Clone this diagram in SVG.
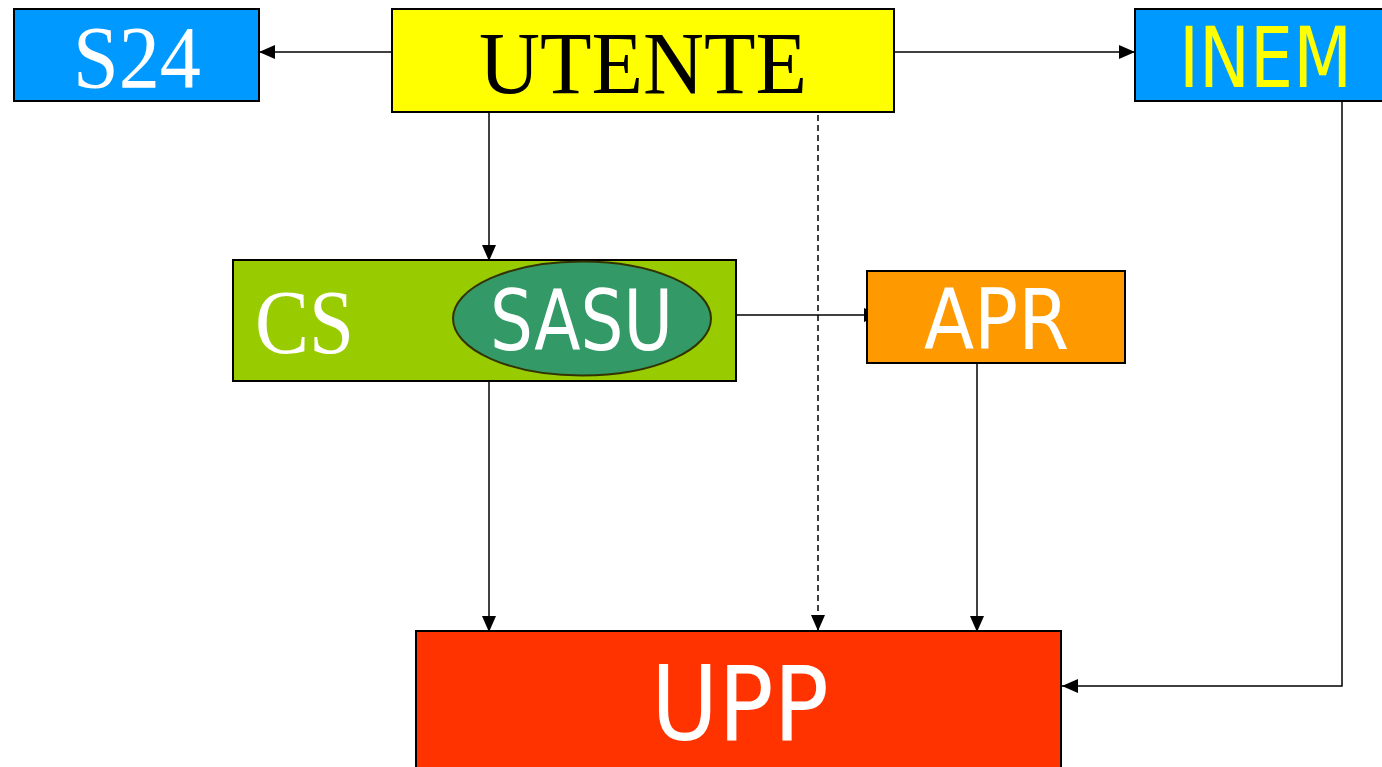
<svg xmlns="http://www.w3.org/2000/svg" width="1382" height="767" viewBox="0 0 1382 767">
<style>
.box{stroke:#000;stroke-width:2}
.ln{stroke:#000;stroke-width:1.5;fill:none}
.serif{font-family:'Liberation Serif','Times New Roman',serif}
.sans{font-family:'DejaVu Sans','Liberation Sans',sans-serif}
</style>
<defs>
<marker id="ah" viewBox="0 0 16 14" refX="16" refY="7" markerWidth="16" markerHeight="14" markerUnits="userSpaceOnUse" orient="auto">
<path d="M0,0 L16,7 L0,14 Z" fill="#000"/>
</marker>
</defs>
<rect width="1382" height="767" fill="#fff"/>
<g id="connectors">
<line class="ln" x1="391" y1="52" x2="259" y2="52" marker-end="url(#ah)"/>
<line class="ln" x1="891" y1="52" x2="1135" y2="52" marker-end="url(#ah)"/>
<line class="ln" x1="489" y1="107" x2="489" y2="261" marker-end="url(#ah)"/>
<line class="ln" x1="818" y1="115" x2="818" y2="631" stroke-dasharray="6,4" marker-end="url(#ah)"/>
<line class="ln" x1="734" y1="315" x2="880" y2="315" marker-end="url(#ah)"/>
<line class="ln" x1="489" y1="381" x2="489" y2="632" marker-end="url(#ah)"/>
<line class="ln" x1="977" y1="358" x2="977" y2="632" marker-end="url(#ah)"/>
<polyline class="ln" points="1342,96 1342,686 1062,686" marker-end="url(#ah)"/>
</g>
<g id="S24">
<rect class="box" x="14" y="9" width="245" height="92" fill="#0099FF"/>
<text class="serif" x="73" y="87" font-size="88" fill="#fff" textLength="128" lengthAdjust="spacingAndGlyphs">S24</text>
</g>
<g id="UTENTE">
<rect class="box" x="392" y="9" width="502" height="103" fill="#FFFF00"/>
<text class="serif" x="479" y="93" font-size="88" fill="#000" textLength="328" lengthAdjust="spacingAndGlyphs">UTENTE</text>
</g>
<g id="INEM">
<rect class="box" x="1135" y="9" width="260" height="92" fill="#0099FF"/>
<text class="sans" x="1179" y="87" font-size="84" fill="#FFFF00" textLength="173" lengthAdjust="spacingAndGlyphs">INEM</text>
</g>
<g id="CS">
<rect class="box" x="233" y="260" width="503" height="121" fill="#99CC00"/>
<text class="serif" x="255" y="353" font-size="90" fill="#fff" textLength="99" lengthAdjust="spacingAndGlyphs">CS</text>
</g>
<g id="SASU">
<ellipse cx="582" cy="318.5" rx="129" ry="57" fill="#339966" stroke="#333300" stroke-width="2"/>
<text class="sans" x="490" y="350" font-size="83" fill="#fff" textLength="183" lengthAdjust="spacingAndGlyphs">SASU</text>
</g>
<g id="APR">
<rect class="box" x="867" y="271" width="258" height="92" fill="#FF9900"/>
<text class="sans" x="924" y="349" font-size="83" fill="#fff" textLength="145" lengthAdjust="spacingAndGlyphs">APR</text>
</g>
<g id="UPP">
<rect class="box" x="416" y="631" width="645" height="145" fill="#FF3300"/>
<text class="sans" x="651" y="740" font-size="103" fill="#fff" textLength="178" lengthAdjust="spacingAndGlyphs">UPP</text>
</g>
</svg>
